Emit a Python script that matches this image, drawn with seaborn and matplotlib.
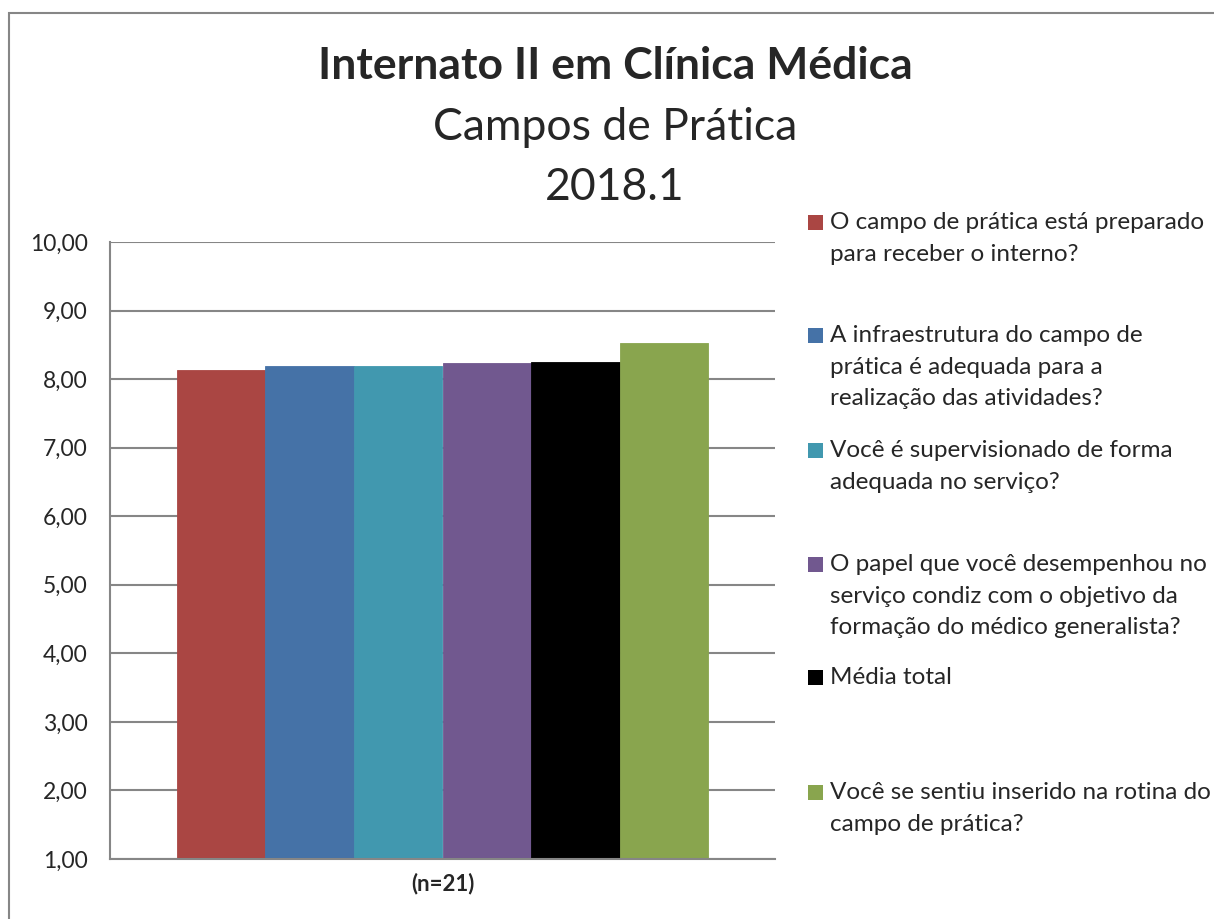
import pandas as pd
import matplotlib
matplotlib.use("Agg")
import matplotlib.pyplot as plt
from matplotlib.patches import Rectangle
from matplotlib.ticker import FuncFormatter
import seaborn as sns

# Dados (médias por pergunta, n=21)
perguntas = [
    "O campo de prática está preparado\npara receber o interno?",
    "A infraestrutura do campo de\nprática é adequada para a\nrealização das atividades?",
    "Você é supervisionado de forma\nadequada no serviço?",
    "O papel que você desempenhou no\nserviço condiz com o objetivo da\nformação do médico generalista?",
    "Média total",
    "Você se sentiu inserido na rotina do\ncampo de prática?",
]
medias = [8.14, 8.19, 8.19, 8.24, 8.25, 8.53]
grupo = ["(n=21)"] * len(perguntas)
cores = ["#AA4643", "#4572A7", "#4198AF", "#71588F", "#000000", "#89A54E"]
yticks = [1, 2, 3, 4, 5, 6, 7, 8, 9, 10]

df = pd.DataFrame({"grupo": grupo, "pergunta": perguntas, "media": medias})

sns.set_style("white")
plt.rcParams["font.family"] = ["Lato", "DejaVu Sans"]

W, H = 1214, 919
fig = plt.figure(figsize=(W / 100, H / 100), dpi=100)
ax = fig.add_axes([110 / W, 1 - 859 / H, 665 / W, 617 / H])

sns.barplot(data=df, x="grupo", y="media", hue="pergunta", palette=cores,
            width=0.8, legend=False, ax=ax, saturation=1, linewidth=0)
# evita a fresta branca entre barras vizinhas
for barra in ax.patches:
    barra.set_edgecolor(barra.get_facecolor())
    barra.set_linewidth(0.6)

ax.set_ylim(1, 10)
ax.set_yticks(yticks)
ax.yaxis.set_major_formatter(FuncFormatter(lambda v, p: f"{v:.2f}".replace(".", ",")))
ax.grid(axis="y", color="#868686", linewidth=1.5)
ax.set_axisbelow(True)
ax.set_xlabel("")
ax.set_ylabel("")
for s in ["top", "right"]:
    ax.spines[s].set_visible(False)
for s in ["left", "bottom"]:
    ax.spines[s].set_color("#868686")
    ax.spines[s].set_linewidth(1.5)
ax.tick_params(axis="y", length=7, width=1.5, color="#868686", labelsize=16.5, pad=9)
ax.tick_params(axis="x", length=0, pad=10)
for lab in ax.get_xticklabels():
    lab.set_fontweight("bold")
    lab.set_fontsize(16)

# Títulos
fig.text(615 / W, 1 - 66 / H, "Internato II em Clínica Médica", ha="center", va="center",
         fontsize=32, fontweight="bold")
fig.text(615 / W, 1 - 127 / H, "Campos de Prática", ha="center", va="center", fontsize=32)
fig.text(615 / W, 1 - 187 / H, "2018.1", ha="center", va="center", fontsize=32)

# Legenda manual, posições como no original
leg_y = [222, 335, 450, 564, 677, 792]
for lab, cor, y in zip(perguntas, cores, leg_y):
    fig.add_artist(Rectangle((808 / W, 1 - (y + 7.5) / H), 15 / W, 15 / H,
                             transform=fig.transFigure, facecolor=cor, edgecolor="none"))
    fig.text(830 / W, 1 - (y - 10) / H, lab, ha="left", va="top", fontsize=17.5,
             linespacing=1.62)

# Moldura do gráfico
fig.add_artist(Rectangle((8.5 / W, -0.1), 1.2, (H - 12.5) / H + 0.1,
                         transform=fig.transFigure, fill=False,
                         edgecolor="#868686", linewidth=1.5))

fig.savefig("out.png", dpi=100)
